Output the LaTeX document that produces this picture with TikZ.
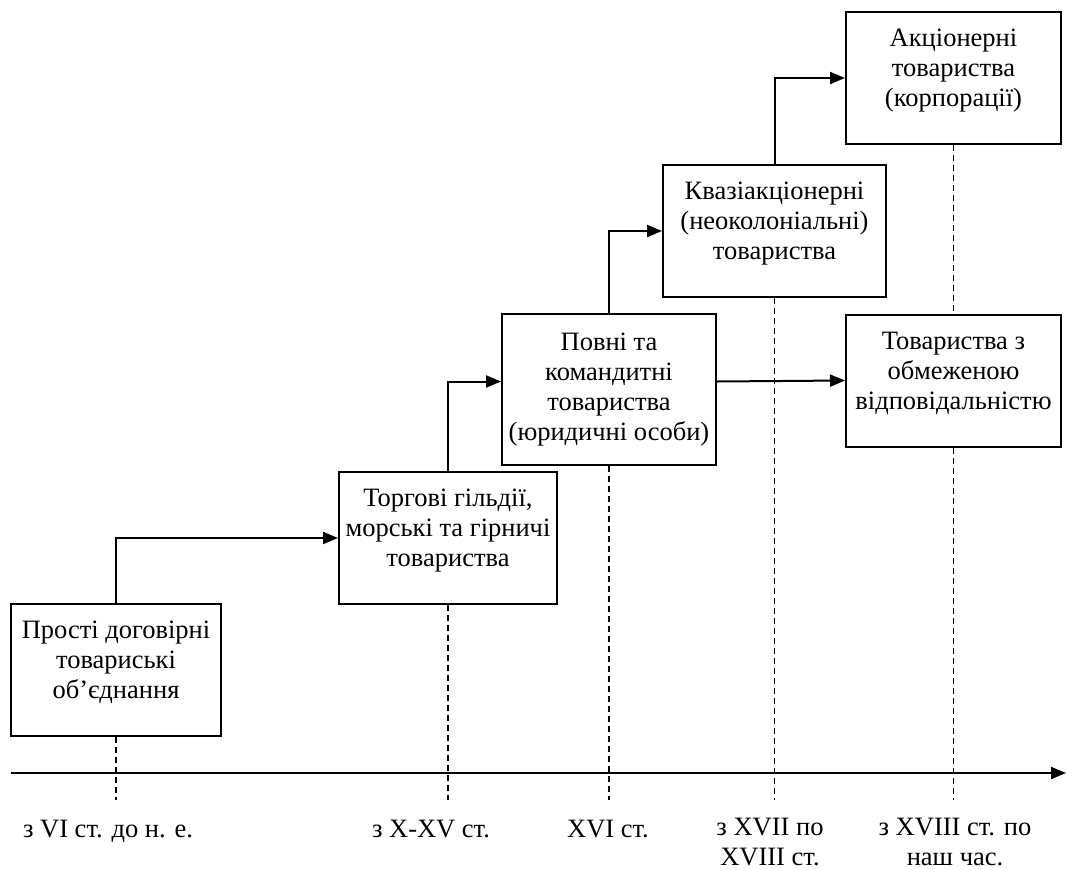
\documentclass[tikz,border=0pt]{standalone}
\usepackage{fontspec}
\setmainfont{Liberation Serif}
\usetikzlibrary{arrows.meta}

\begin{document}
\begin{tikzpicture}[x=1pt, y=-1pt,
		every node/.style={font=\fontsize{26.5}{30}\selectfont},
		stage/.style={draw, line width=2pt, align=center, inner sep=0pt,
			text height=80pt, text depth=23pt, minimum height=132pt},
		link/.style={line width=2pt, -{Triangle[length=15pt,width=12pt]}},
		guide/.style={line width=1.4pt, dash pattern=on 6pt off 4pt},
		era/.style={align=center, anchor=base, inner sep=0pt},
	]
	\useasboundingbox (0,0) rectangle (1066,870);

	\node[stage, minimum width=210pt] (b1) at (116,669.5) {Прості договірні\\товариські\\об’єднання};
	\node[stage, minimum width=218pt] (b2) at (448,538) {Торгові гільдії,\\морські та гірничі\\товариства};
	\node[stage, minimum width=214pt, text height=110pt, text depth=9pt, minimum height=151pt] (b3) at (609,389.5) {Повні та\\командитні\\товариства\\(юридичні особи)};
	\node[stage, minimum width=223pt] (b4) at (774.5,231) {Квазіакціонерні\\(неоколоніальні)\\товариства};
	\node[stage, minimum width=215pt] (b5) at (953.5,78) {Акціонерні\\товариства\\(корпорації)};
	\node[stage, minimum width=215pt] (b6) at (953.5,380.5) {Товариства з\\обмеженою\\відповідальністю};

	% time axis
	\coordinate (a0) at (11,773);
	\coordinate (a1) at (1066,773);
	\coordinate (dend) at (0,800);
	\draw[link] (a0) -- (a1);

	\draw[link] (b1.north) |- (b2.west);
	\draw[link] (b2.north) |- ([yshift=8pt]b3.west);
	\draw[link] (b3.north) |- (b4.west);
	\draw[link] (b4.north) |- (b5.west);
	\draw[link] ([yshift=8pt]b3.east) -- (b6.west);

	\foreach \b in {b1,b2,b3,b4,b6}
		{ \draw[guide] (\b.south) -- (\b.south |- dend);}
	\draw[guide] (b5.south) -- (b6.north);

	\node[era] (e1) at (108,837) {з VI ст. до н. е.};
	\node[era] (e2) at (431,837) {з X-XV ст.};
	\node[era] (e3) at (608,837) {XVI ст.};
	\node[era] (e4) at (770,865) {з XVII по\\XVIII ст.};
	\node[era] (e5) at (955,865) {з XVIII ст. по\\наш час.};

\end{tikzpicture}
\end{document}
